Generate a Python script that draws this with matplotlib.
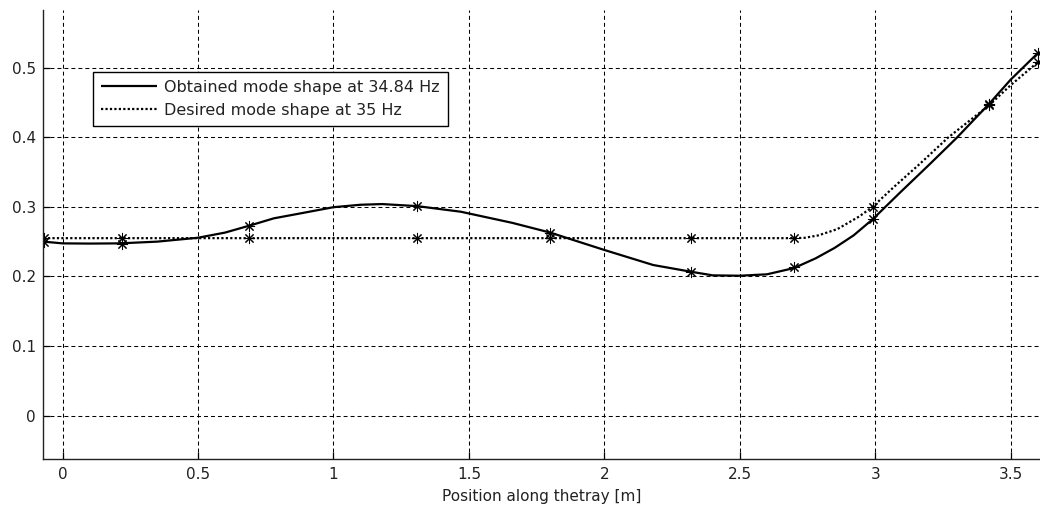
import matplotlib
matplotlib.use("Agg")
import matplotlib.pyplot as plt

plt.rcParams['font.family'] = ['DejaVu Sans']

# Measurement stations along the tray (marked with asterisks)
station_x = [-0.07, 0.22, 0.69, 1.31, 1.80, 2.32, 2.70, 2.99, 3.42, 3.60]
obtained_at_stations = [0.250, 0.2465, 0.273, 0.301, 0.263, 0.206, 0.213, 0.283, 0.448, 0.521]
desired_at_stations = [0.255, 0.255, 0.255, 0.255, 0.255, 0.255, 0.255, 0.300, 0.446, 0.508]

# Smooth mode shape curves
obtained_x = [-0.07, 0.0, 0.1, 0.21, 0.35, 0.5, 0.6, 0.69, 0.78, 0.87, 1.0, 1.1, 1.18,
              1.31, 1.47, 1.66, 1.8, 2.0, 2.18, 2.32, 2.4, 2.5, 2.6, 2.7, 2.78, 2.85,
              2.92, 2.99, 3.09, 3.2, 3.3, 3.42, 3.5, 3.6]
obtained_y = [0.250, 0.2475, 0.2472, 0.2475, 0.250, 0.2556, 0.263, 0.273, 0.2835, 0.290,
              0.2995, 0.303, 0.304, 0.301, 0.293, 0.277, 0.263, 0.238, 0.2164, 0.2067,
              0.2015, 0.201, 0.203, 0.212, 0.226, 0.241, 0.259, 0.282, 0.320, 0.361,
              0.399, 0.448, 0.483, 0.521]
desired_x = [-0.07, 2.70, 2.74, 2.79, 2.86, 2.94, 2.99, 3.07, 3.165, 3.27, 3.42, 3.5, 3.6]
desired_y = [0.255, 0.255, 0.2555, 0.259, 0.268, 0.286, 0.300, 0.329, 0.362, 0.400,
             0.446, 0.475, 0.508]

x_ticks = [0, 0.5, 1, 1.5, 2, 2.5, 3, 3.5]
x_tick_labels = ['0', '0.5', '1', '1.5', '2', '2.5', '3', '3.5']
y_ticks = [0, 0.1, 0.2, 0.3, 0.4, 0.5]
y_tick_labels = ['0', '0.1', '0.2', '0.3', '0.4', '0.5']

labels = ['Obtained mode shape at 34.84 Hz', 'Desired mode shape at 35 Hz']
x_label = 'Position along thetray [m]'

W, H = 1040, 511
fig = plt.figure(figsize=(W / 100, H / 100), dpi=100)
ax = fig.add_axes([43 / W, (H - 459) / H, (W - 43) / W, (459 - 10) / H])

star = (8, 2, 0)
l1, = ax.plot(obtained_x, obtained_y, color='black', lw=1.6, solid_capstyle='butt')
l2, = ax.plot(desired_x, desired_y, color='black', lw=1.6, linestyle=(0, (1, 1)))
ax.plot(station_x, obtained_at_stations, linestyle='none', marker=star, ms=8,
        mec='black', mew=0.75, color='black')
ax.plot(station_x, desired_at_stations, linestyle='none', marker=star, ms=8,
        mec='black', mew=0.75, color='black')

ax.set_xlim(-0.072, 3.608)
ax.set_ylim(-0.0625, 0.583)
ax.set_xticks(x_ticks)
ax.set_xticklabels(x_tick_labels)
ax.set_yticks(y_ticks)
ax.set_yticklabels(y_tick_labels)

ax.grid(True, color='black', lw=0.75, linestyle=(0, (3.8, 2.9)))
ax.set_axisbelow(True)
ax.tick_params(direction='in', length=5, width=0.9, labelsize=11,
               labelcolor='#222222', pad=6)
ax.tick_params(axis='y', pad=5)
for side in ('top', 'right'):
    ax.spines[side].set_visible(False)
for side in ('left', 'bottom'):
    ax.spines[side].set_linewidth(1.0)
    ax.spines[side].set_color('#222222')

ax.set_xlabel(x_label, fontsize=11, color='#222222', labelpad=5)

leg = ax.legend([l1, l2], labels, loc='upper left',
                bbox_to_anchor=(93 / W, (H - 72) / H), bbox_transform=fig.transFigure,
                fontsize=11.5, frameon=True, fancybox=False, framealpha=1,
                edgecolor='black', handlelength=3.5, handletextpad=0.45,
                borderpad=0.5, labelspacing=0.5, borderaxespad=0)
leg.get_frame().set_linewidth(1.0)
for t in leg.get_texts():
    t.set_color('#222222')

fig.savefig('out.png', dpi=100)
